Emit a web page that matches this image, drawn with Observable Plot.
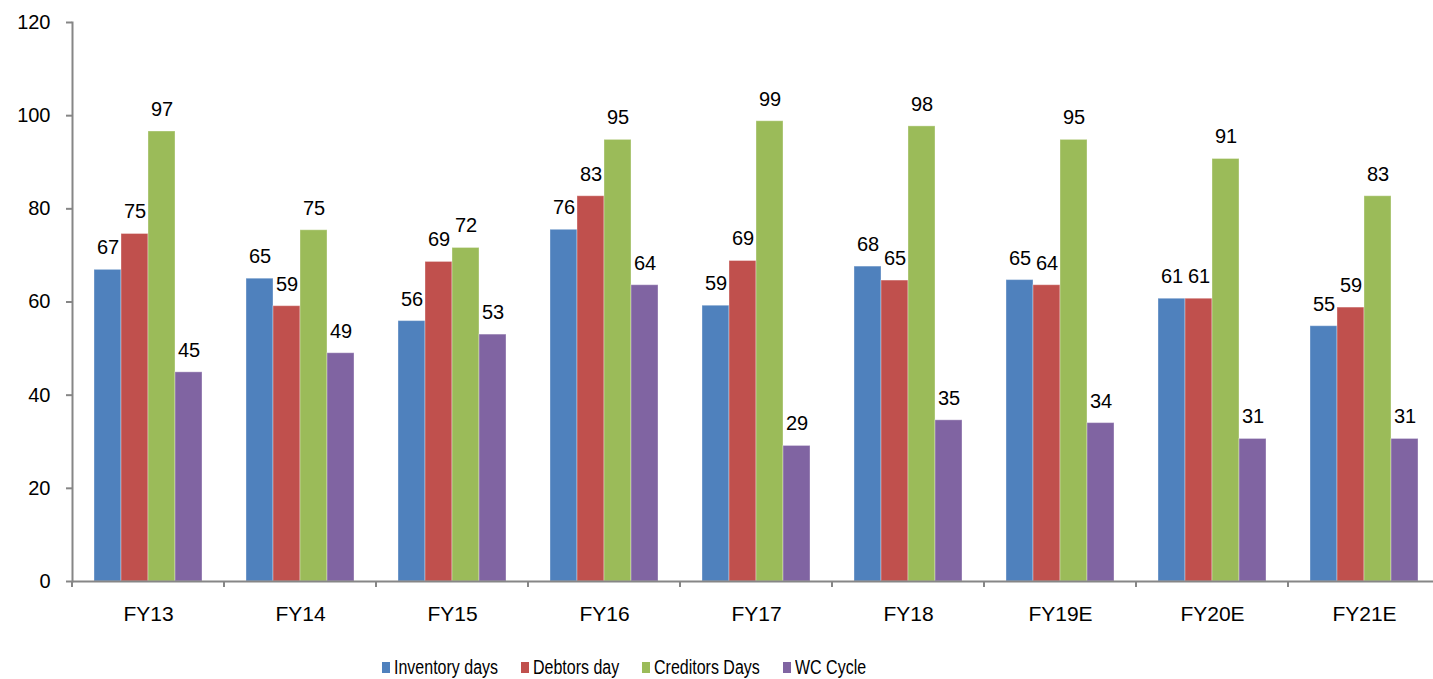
<!DOCTYPE html>
<html><head><meta charset="utf-8">
<script src="https://cdn.jsdelivr.net/npm/d3@7"></script>
<script src="https://cdn.jsdelivr.net/npm/@observablehq/plot@0.6"></script>
<style>
html,body{margin:0;padding:0;background:#fff;overflow:hidden;width:1433px;height:679px;}
#chart{font-family:"Liberation Sans",Arial,sans-serif;width:1442px;height:645px;}
#chart svg{max-width:none !important;width:1442px !important;height:645px !important;display:block;}
.legend{display:flex;align-items:center;height:22px;margin-top:11px;padding-left:382px;font-family:"Liberation Sans",Arial,sans-serif;font-size:20px;line-height:22px;color:#000;white-space:nowrap;}
.legend .item{display:flex;align-items:center;margin-right:23px;}
.legend .sw{width:8px;height:11px;margin-right:4px;flex:none;}
.legend .lb{display:inline-block;transform:scaleX(0.8);transform-origin:left center;}
</style></head><body><div id="chart"></div><script>
const categories = ["FY13","FY14","FY15","FY16","FY17","FY18","FY19E","FY20E","FY21E"];
const seriesNames = ["Inventory days","Debtors day","Creditors Days","WC Cycle"];
const seriesColors = ["#4F81BD","#C0504D","#9BBB59","#8064A2"];
const inventoryDays = [66.9, 65.0, 55.9, 75.5, 59.2, 67.6, 64.7, 60.7, 54.8];
const debtorsDay    = [74.6, 59.1, 68.6, 82.7, 68.8, 64.6, 63.6, 60.7, 58.8];
const creditorsDays = [96.6, 75.4, 71.6, 94.8, 98.8, 97.7, 94.8, 90.7, 82.7];
const wcCycle       = [44.9, 49.0, 53.0, 63.6, 29.1, 34.6, 34.0, 30.6, 30.6];
const yTicks = [0, 20, 40, 60, 80, 100, 120];

const seriesValues = [inventoryDays, debtorsDay, creditorsDays, wcCycle];
const data = categories.flatMap((c, i) => seriesValues.map((vals, j) => ({category: c, series: seriesNames[j], value: vals[i]})));
const axisColor = "#868686";
const font = '"Liberation Sans", Arial, sans-serif';

function boundaryTicks(index, scales, values, dimensions) {
  const [x0, x1] = scales.x.range();
  const y0 = scales.y(0);
  const g = d3.create("svg:g").attr("stroke", axisColor).attr("stroke-width", 2);
  for (const x of [x0, x1]) g.append("line").attr("x1", x).attr("x2", x).attr("y1", y0).attr("y2", y0 + 6);
  return g.node();
}

const chart = Plot.plot({
  width: 1442, height: 645,
  marginTop: 22, marginBottom: 64, marginLeft: 70, marginRight: 0,
  style: {fontFamily: font, fontSize: "20px", color: "#000", background: "#fff", maxWidth: "none"},
  fx: {domain: categories, padding: 0, label: null},
  x: {domain: seriesNames, paddingInner: 0, paddingOuter: 0.78, axis: null},
  y: {domain: [0, 120], label: null},
  color: {domain: seriesNames, range: seriesColors},
  marks: [
    Plot.barY(data, {fx: "category", x: "series", y: "value", fill: "series", stroke: "#fff", strokeOpacity: 0.35, strokeWidth: 1}),
    Plot.text(data, {fx: "category", x: "series", y: "value", text: d => String(Math.round(d.value)), dy: -22, fontSize: 20, fill: "#000"}),
    Plot.ruleY([0], {stroke: axisColor, strokeWidth: 2}),
    Plot.frame({anchor: "left", facetAnchor: "left", stroke: axisColor, strokeWidth: 2}),
    boundaryTicks,
    Plot.axisY({ticks: yTicks, tickSize: 6, tickPadding: 16, stroke: axisColor, strokeWidth: 2, label: null, fontSize: 20, tickFormat: d => String(d)}),
    Plot.axisFx({anchor: "bottom", tickSize: 0, tickPadding: 25, label: null, fontSize: 21})
  ]
});
chart.style.maxWidth = "none";
document.getElementById("chart").appendChild(chart);

const legend = document.createElement("div");
legend.className = "legend";
seriesNames.forEach((name, i) => {
  const item = document.createElement("div");
  item.className = "item";
  const sw = document.createElement("span");
  sw.className = "sw";
  sw.style.background = seriesColors[i];
  const lb = document.createElement("span");
  lb.className = "lb";
  lb.textContent = name;
  item.appendChild(sw); item.appendChild(lb);
  legend.appendChild(item);
});
document.body.appendChild(legend);
legend.querySelectorAll(".lb").forEach(lb => { lb.style.marginRight = (-0.2 * lb.offsetWidth) + "px"; });
</script></body></html>
